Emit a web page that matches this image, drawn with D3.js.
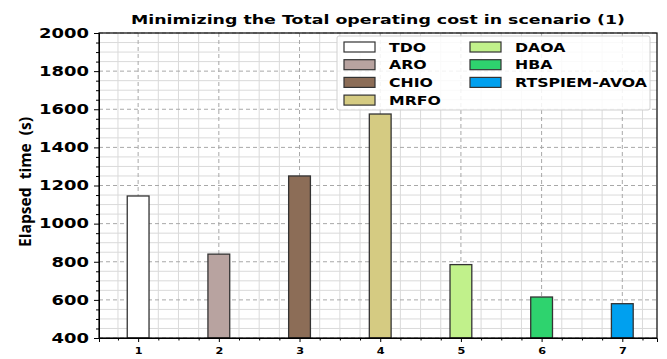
<!DOCTYPE html>
<html lang="en">
<head>
<meta charset="UTF-8">
<title>Elapsed time</title>
<script src="https://d3js.org/d3.v7.min.js"></script>
<style>
  body { margin: 0; background: #fff; }
  text { font-family: "DejaVu Sans", sans-serif; }
</style>
</head>
<body>
<div id="chart"></div>
<script>
// data
var algorithms = ["TDO", "ARO", "CHIO", "MRFO", "DAOA", "HBA", "RTSPIEM-AVOA"];
var positions = [1, 2, 3, 4, 5, 6, 7];
var elapsed = [1145, 840, 1250, 1575, 785, 615, 580];
var colors = ["#ffffff", "#b8a3a0", "#8c6d57", "#d5cb82", "#c1f18b", "#2ed36e", "#00a0ef"];
var yTicks = [400, 600, 800, 1000, 1200, 1400, 1600, 1800, 2000];

var margin = {top: 33, right: 10, bottom: 21, left: 99},
    width = 667 - margin.left - margin.right,
    height = 359 - margin.top - margin.bottom;

var svg = d3.select("#chart")
  .append("svg")
    .attr("width", 667)
    .attr("height", 359)
  .append("g")
    .attr("transform", "translate(" + margin.left + "," + margin.top + ")");

var x = d3.scaleLinear().domain([0.515, 7.43]).range([0, width]);
var y = d3.scaleLinear().domain([400, 2000]).range([height, 0]);

// minor grid
var xMinor = d3.range(0.75, 7.43, 0.25).filter(function(d) { return Math.abs(d - Math.round(d)) > 0.01; });
var yMinor = d3.range(450, 2000, 50).filter(function(d) { return d % 200 != 0; });

svg.append("g").selectAll("line").data(xMinor).enter().append("line")
  .attr("x1", function(d) { return x(d); }).attr("x2", function(d) { return x(d); })
  .attr("y1", 0).attr("y2", height)
  .attr("stroke", "#dadada").attr("stroke-width", 1);
svg.append("g").selectAll("line").data(yMinor).enter().append("line")
  .attr("y1", function(d) { return y(d); }).attr("y2", function(d) { return y(d); })
  .attr("x1", 0).attr("x2", width)
  .attr("stroke", "#dadada").attr("stroke-width", 1);

// major grid (dashed)
svg.append("g").selectAll("line").data(positions).enter().append("line")
  .attr("x1", function(d) { return x(d); }).attr("x2", function(d) { return x(d); })
  .attr("y1", 0).attr("y2", height)
  .attr("stroke", "#a8a8a8").attr("stroke-dasharray", "4,3");
svg.append("g").selectAll("line").data(yTicks).enter().append("line")
  .attr("y1", function(d) { return y(d); }).attr("y2", function(d) { return y(d); })
  .attr("x1", 0).attr("x2", width)
  .attr("stroke", "#a8a8a8").attr("stroke-dasharray", "4,3");

// bars
var barW = x(1.135) - x(1);
svg.append("g").selectAll("rect").data(elapsed).enter().append("rect")
  .attr("x", function(d, i) { return x(positions[i]) - barW; })
  .attr("y", function(d) { return y(d); })
  .attr("width", barW * 2)
  .attr("height", function(d) { return height - y(d); })
  .attr("fill", function(d, i) { return colors[i]; })
  .attr("stroke", "#333")
  .attr("stroke-width", 1.3);

// frame
svg.append("rect").attr("width", width).attr("height", height)
  .attr("fill", "none").attr("stroke", "#000").attr("stroke-width", 1.2);

// axes
var xAxis = svg.append("g").attr("transform", "translate(0," + height + ")")
  .call(d3.axisBottom(x).tickValues(positions).tickFormat(d3.format("d")).tickSize(4));
svg.append("g").attr("transform", "translate(0," + height + ")")
  .call(d3.axisBottom(x).tickValues(xMinor).tickFormat("").tickSize(2.5))
  .select(".domain").remove();
xAxis.selectAll("text").attr("font-size", 9).attr("font-weight", "bold")
  .attr("y", 0).attr("dy", 0)
  .attr("transform", "translate(0,16) scale(1.25,1)");

var yAxis = svg.append("g")
  .call(d3.axisLeft(y).tickValues(yTicks).tickFormat(d3.format("d")).tickSize(5));
svg.append("g")
  .call(d3.axisLeft(y).tickValues(yMinor).tickFormat("").tickSize(3))
  .select(".domain").remove();
yAxis.selectAll("text").attr("font-size", 13.5).attr("font-weight", "bold")
  .attr("x", 0).attr("transform", "translate(-10,0) scale(1.33,1)");
svg.selectAll(".domain").attr("stroke", "#000");

// title
svg.append("text")
  .attr("x", 378 - margin.left)
  .attr("y", -9)
  .attr("text-anchor", "middle")
  .attr("font-size", 12.5)
  .attr("font-weight", "bold")
  .attr("textLength", 494)
  .attr("lengthAdjust", "spacingAndGlyphs")
  .text("Minimizing the Total operating cost in scenario (1)");

// y label (double spaces kept)
svg.append("text")
  .attr("transform", "translate(" + (-68) + "," + (182 - margin.top) + ") scale(1.2,1) rotate(-90)")
  .attr("text-anchor", "middle")
  .attr("font-size", 14)
  .attr("font-weight", 700)
  .attr("textLength", 130)
  .attr("lengthAdjust", "spacingAndGlyphs")
  .style("font-family", "'Open Sans', sans-serif")
  .style("white-space", "pre")
  .text("Elapsed  time  (s)");

// legend
var legend = svg.append("g").attr("transform", "translate(" + (337 - margin.left) + "," + (36 - margin.top) + ")");
legend.append("rect").attr("width", 313).attr("height", 74)
  .attr("fill", "#fff").attr("fill-opacity", 0.85)
  .attr("stroke", "#d0d0d0").attr("rx", 2);
var items = legend.selectAll("g.item").data(algorithms).enter().append("g")
  .attr("transform", function(d, i) {
    var col = i < 4 ? 0 : 1, row = i < 4 ? i : i - 4;
    return "translate(" + (7 + col * 126) + "," + (6 + row * 17.7) + ")";
  });
items.append("rect").attr("width", 31).attr("height", 10)
  .attr("fill", function(d, i) { return colors[i]; })
  .attr("stroke", "#333").attr("stroke-width", 1.2);
items.append("text")
  .attr("transform", "translate(45,5) scale(1.26,1)")
  .attr("dy", "0.36em")
  .attr("font-size", 12.5).attr("font-weight", "bold")
  .text(function(d) { return d; });
</script>
</body>
</html>
